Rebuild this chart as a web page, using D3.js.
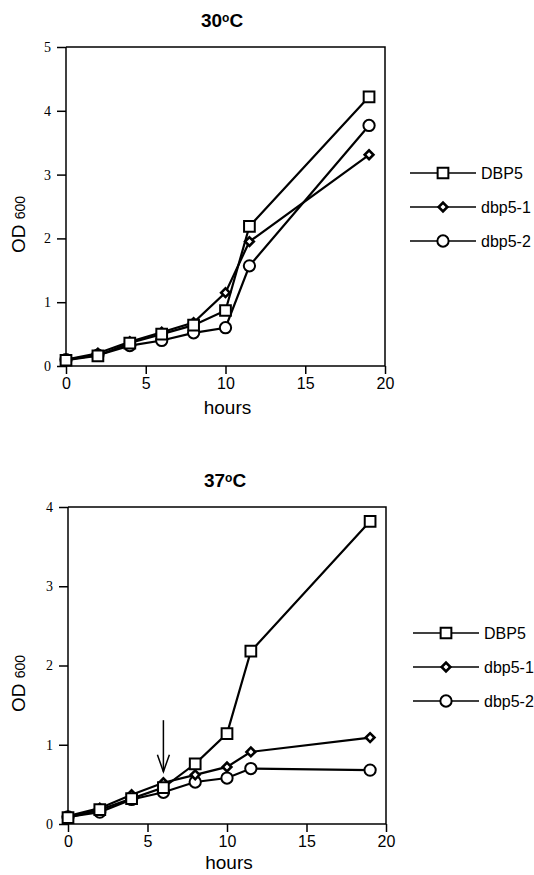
<!DOCTYPE html>
<html>
<head>
<meta charset="utf-8">
<script src="https://d3js.org/d3.v7.min.js"></script>
<style>
  body { margin: 0; background: #fff; }
  svg { display: block; }
</style>
</head>
<body>
<svg id="vis"></svg>
<script>
  // time points (hours)
  var hours = [0, 2, 4, 6, 8, 10, 11.5, 19];
  var seriesNames = ['DBP5', 'dbp5-1', 'dbp5-2'];

  // OD600 at 30C
  var dbp5_30 = [0.09, 0.16, 0.36, 0.50, 0.64, 0.87, 2.19, 4.22];
  var dbp51_30 = [0.10, 0.20, 0.38, 0.53, 0.68, 1.15, 1.95, 3.31];
  var dbp52_30 = [0.10, 0.17, 0.32, 0.40, 0.52, 0.60, 1.57, 3.77];

  // OD600 at 37C
  var dbp5_37 = [0.08, 0.18, 0.32, 0.46, 0.76, 1.14, 2.18, 3.82];
  var dbp51_37 = [0.10, 0.20, 0.37, 0.52, 0.62, 0.72, 0.91, 1.09];
  var dbp52_37 = [0.09, 0.15, 0.31, 0.40, 0.53, 0.58, 0.70, 0.68];

  var xTicks = [0, 5, 10, 15, 20];
  var yTicks30 = [0, 1, 2, 3, 4, 5];
  var yTicks37 = [0, 1, 2, 3, 4];
  var arrowHour = 6, arrowFrom = 1.31, arrowTo = 0.66;

  var svg = d3.select('#vis').attr('width', 534).attr('height', 875);

  var shapes = {
    'DBP5': {sym: d3.symbol().type(d3.symbolSquare).size(115), rot: 0},
    'dbp5-1': {sym: d3.symbol().type(d3.symbolSquare).size(38), rot: 45},
    'dbp5-2': {sym: d3.symbol().type(d3.symbolCircle).size(100), rot: 0}
  };

  function marker(sel, name) {
    sel.attr('d', shapes[name].sym)
      .attr('fill', '#fff').attr('stroke', '#000')
      .attr('stroke-width', name === 'dbp5-1' ? 2.6 : 2);
  }

  function panel(opt) {
    var g = svg.append('g');
    var x = d3.scaleLinear().domain([0, 20]).range([opt.left, opt.right]);
    var y = d3.scaleLinear().domain([0, opt.ymax]).range([opt.bottom, opt.top]);

    // frame (top + right)
    g.append('path')
      .attr('d', 'M' + opt.left + ',' + opt.top + 'H' + opt.right + 'V' + opt.bottom)
      .attr('fill', 'none').attr('stroke', '#000').attr('stroke-width', 1.5);

    var xa = g.append('g').attr('transform', 'translate(0,' + opt.bottom + ')')
      .call(d3.axisBottom(x).tickValues(xTicks).tickFormat(d3.format('d')).tickSize(8).tickPadding(4));
    xa.selectAll('text').attr('font-family', 'Liberation Sans, Arial, sans-serif')
      .attr('font-size', 16).attr('fill', '#000');
    var ya = g.append('g').attr('transform', 'translate(' + opt.left + ',0)')
      .call(d3.axisLeft(y).tickValues(opt.yTicks).tickFormat(d3.format('d')).tickSize(9).tickPadding(6));
    ya.selectAll('text').attr('font-family', 'Liberation Serif, Times New Roman, serif')
      .attr('font-size', 14).attr('fill', '#000');
    g.selectAll('.domain').attr('stroke-width', 1.5);
    xa.select('.domain').attr('d', 'M' + opt.left + ',0H' + opt.right);
    ya.select('.domain').attr('d', 'M0,' + opt.bottom + 'V' + opt.top);
    g.selectAll('.tick line').attr('stroke-width', 1.5);

    // titles
    var t = g.append('text').attr('x', opt.titleX).attr('y', opt.titleY)
      .attr('text-anchor', 'middle').attr('font-family', 'Liberation Sans, Arial, sans-serif')
      .attr('font-weight', 'bold').attr('font-size', 19);
    t.append('tspan').text(opt.temp);
    t.append('tspan').attr('font-size', 12).attr('dy', -5).text('o');
    t.append('tspan').attr('dy', 5).text('C');

    g.append('text').attr('x', (opt.left + opt.right) / 2 + 2).attr('y', opt.bottom + opt.hoursDy)
      .attr('text-anchor', 'middle').attr('font-family', 'Liberation Sans, Arial, sans-serif')
      .attr('font-size', 19).text('hours');

    var yl = g.append('text')
      .attr('transform', 'translate(' + 25 + ',' + ((opt.top + opt.bottom) / 2 + 18) + ') rotate(-90)')
      .attr('text-anchor', 'middle').attr('font-family', 'Liberation Sans, Arial, sans-serif')
      .attr('font-size', 19);
    yl.append('tspan').text('OD ');
    yl.append('tspan').attr('font-size', 14).text('600');

    var line = d3.line().x(function(d) { return x(d[0]); }).y(function(d) { return y(d[1]); });

    // draw order: circles, diamonds, squares on top
    [2, 1, 0].forEach(function(i) {
      var name = seriesNames[i];
      var vals = opt.series[i];
      var pts = hours.map(function(h, j) { return [h, vals[j]]; });
      g.append('path').datum(pts).attr('d', line)
        .attr('fill', 'none').attr('stroke', '#000').attr('stroke-width', opt.lineWidth);
      g.selectAll(null).data(pts).enter().append('path')
        .attr('transform', function(d) {
          return 'translate(' + x(d[0]) + ',' + y(d[1]) + ') rotate(' + shapes[name].rot + ')';
        })
        .call(marker, name);
    });

    // legend
    seriesNames.forEach(function(name, i) {
      var ly = opt.legendY + i * 34;
      g.append('line').attr('x1', opt.legendX).attr('x2', opt.legendX + 66)
        .attr('y1', ly).attr('y2', ly).attr('stroke', '#000').attr('stroke-width', 1.5);
      g.append('path')
        .attr('transform', 'translate(' + (opt.legendX + 33) + ',' + ly + ') rotate(' + shapes[name].rot + ')')
        .call(marker, name);
      g.append('text').attr('x', opt.legendX + 71).attr('y', ly + 6)
        .attr('font-family', 'Liberation Sans, Arial, sans-serif').attr('font-size', 16)
        .text(name);
    });

    return {g: g, x: x, y: y};
  }

  panel({
    left: 66, right: 385, top: 47, bottom: 366, ymax: 5, yTicks: yTicks30,
    temp: '30', titleX: 222, titleY: 27, lineWidth: 2.2, hoursDy: 48,
    series: [dbp5_30, dbp51_30, dbp52_30],
    legendX: 410, legendY: 173
  });

  var p37 = panel({
    left: 68, right: 386, top: 507, bottom: 824, ymax: 4, yTicks: yTicks37,
    temp: '37', titleX: 225, titleY: 487, lineWidth: 2.2, hoursDy: 45,
    series: [dbp5_37, dbp51_37, dbp52_37],
    legendX: 413, legendY: 633
  });

  // arrow marking the temperature shift
  var ax = p37.x(arrowHour), ay1 = p37.y(arrowFrom), ay2 = p37.y(arrowTo);
  p37.g.append('line').attr('x1', ax).attr('x2', ax).attr('y1', ay1).attr('y2', ay2)
    .attr('stroke', '#000').attr('stroke-width', 1.5);
  p37.g.append('path')
    .attr('d', 'M' + (ax - 6) + ',' + (ay2 - 17) + 'L' + ax + ',' + ay2 + 'L' + (ax + 6) + ',' + (ay2 - 17))
    .attr('fill', 'none').attr('stroke', '#000').attr('stroke-width', 1.5);
</script>
</body>
</html>
